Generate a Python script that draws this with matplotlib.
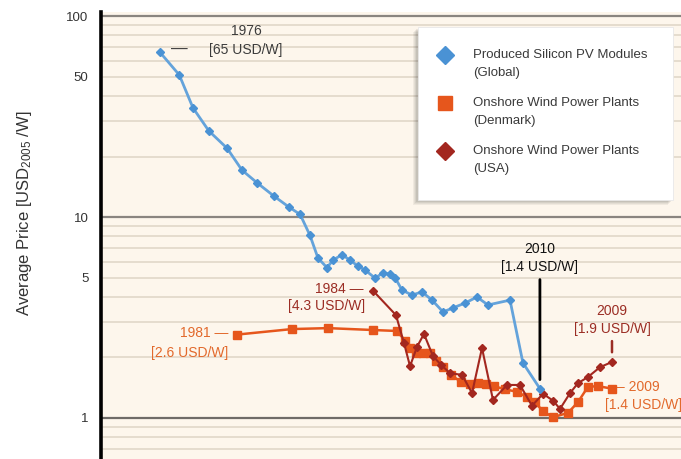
import matplotlib.pyplot as plt
from matplotlib.patches import Rectangle
from matplotlib.lines import Line2D
from matplotlib.ticker import FixedLocator, FixedFormatter, LogLocator, NullLocator

plt.rcParams['font.family'] = ['Liberation Sans', 'DejaVu Sans']
plt.rcParams['mathtext.default'] = 'regular'

# cumulative installed capacity [MW] (x axis is cropped off) and average price [USD2005/W]
pv_mw = [4.2, 6.6, 9.1, 13.2, 20.2, 28.7, 40.8, 60.7, 86.3, 112, 141, 170, 210, 242,
         299, 360, 434, 512, 647, 780, 919, 1033, 1217, 1538, 1945, 2460, 3184, 4018,
         5322, 7047, 9120, 15280, 20700, 30800]
pv_price = [66, 50.9, 34.9, 26.8, 22.0, 17.1, 14.8, 12.7, 11.2, 10.3, 8.1, 6.25, 5.6, 6.1,
            6.5, 6.1, 5.7, 5.45, 4.97, 5.27, 5.2, 5.0, 4.33, 4.09, 4.24, 3.86, 3.37, 3.53,
            3.73, 4.0, 3.65, 3.86, 1.88, 1.4]

dk_mw = [25.5, 92.5, 215, 617, 1084, 1307, 1469, 1690, 1991, 2346, 2700, 3184, 3838, 4852,
         5988, 7225, 8710, 10500, 13580, 17990, 22740, 27400, 33100, 41850, 59430, 75130,
         95000, 120000, 166700]
dk_price = [2.6, 2.77, 2.80, 2.74, 2.71, 2.42, 2.23, 2.10, 2.10, 2.10, 1.92, 1.79, 1.64, 1.51,
            1.48, 1.49, 1.48, 1.44, 1.39, 1.35, 1.27, 1.20, 1.08, 1.01, 1.06, 1.20,
            1.43, 1.44, 1.4]

usa_mw = [617, 1057, 1276, 1469, 1730, 2037, 2518, 3035, 3750, 4966, 6280, 7930, 10260,
          14250, 19320, 25590, 33100, 41850, 49320, 62370, 75130, 95000, 125900, 166700]
usa_price = [4.3, 3.25, 2.36, 1.81, 2.26, 2.62, 2.03, 1.84, 1.67, 1.64, 1.33, 2.23, 1.23,
             1.46, 1.46, 1.15, 1.32, 1.22, 1.11, 1.33, 1.49, 1.60, 1.79, 1.9]

y_ticks = [1, 5, 10, 50, 100]
y_labels = ['1', '5', '10', '50', '100']
major_lines = [1, 10, 100]

legend_labels = ['Produced Silicon PV Modules\n(Global)',
                 'Onshore Wind Power Plants\n(Denmark)',
                 'Onshore Wind Power Plants\n(USA)']

BLUE = '#4a92d4'
BLUE_LINE = '#64a3db'
ORANGE = '#e6561c'
DRED = '#a3271f'

W, H = 681, 459
fig = plt.figure(figsize=(W / 100, H / 100), dpi=100)
ax = fig.add_axes([101 / W, 0, 580 / W, 1 - 12 / H])
ax.set_facecolor('#fdf6ec')
ax.set_xscale('log')
ax.set_yscale('log')
ax.set_xlim(10 ** 0.023, 10 ** 5.924)
ax.set_ylim(10 ** -0.204, 10 ** 2.02)

# grid
ax.yaxis.set_major_locator(FixedLocator(y_ticks))
ax.yaxis.set_major_formatter(FixedFormatter(y_labels))
ax.yaxis.set_minor_locator(LogLocator(base=10, subs=range(2, 10), numticks=30))
ax.yaxis.remove_overlapping_locs = False
ax.grid(True, which='minor', axis='y', color='#e3dacb', lw=1.3)
for v in major_lines:
    ax.axhline(v, color='#8a8580' if v != 1 else '#6f6b67', lw=1.6, zorder=1)
ax.xaxis.set_major_locator(NullLocator())
ax.xaxis.set_minor_locator(NullLocator())
ax.tick_params(which='both', length=0)
ax.tick_params(axis='y', pad=9, labelsize=9.5, labelcolor='#333333')
for s in ['top', 'right', 'bottom']:
    ax.spines[s].set_visible(False)
ax.spines['left'].set_linewidth(2.6)
ax.spines['left'].set_color('black')

# series
ax.plot(dk_mw, dk_price, color=ORANGE, lw=1.8, marker='s', ms=6, zorder=3)
ax.plot(usa_mw, usa_price, color=DRED, lw=1.5, marker='D', ms=4, zorder=4)
ax.plot(pv_mw, pv_price, color=BLUE_LINE, lw=2, marker='D', ms=4.3,
        mfc=BLUE, mec=BLUE, zorder=5)

# annotations
fs = 10
def note(txt, xy, off, color, ha='center', size=fs):
    ax.annotate(txt, xy=xy, xytext=off, textcoords='offset points',
                ha=ha, va='center', color=color, fontsize=size)

grey = '#3c3c3c'
note('—', (pv_mw[0], pv_price[0]), (14, 2), grey, size=12)
note('1976', (pv_mw[0], pv_price[0]), (62, 15), grey)
note('[65 USD/W]', (pv_mw[0], pv_price[0]), (62, 2), grey)

note('1984 —', (usa_mw[0], usa_price[0]), (-7, 1.5), '#9b2d24', ha='right')
note('[4.3 USD/W]', (usa_mw[0], usa_price[0]), (-6, -11), '#9b2d24', ha='right')

note('1981 —', (dk_mw[0], dk_price[0]), (-6.5, 1), '#e2692c', ha='right')
note('[2.6 USD/W]', (dk_mw[0], dk_price[0]), (-6.5, -13), '#e2692c', ha='right')

ax.annotate('2010\n[1.4 USD/W]', xy=(pv_mw[-1], pv_price[-1]), xytext=(0, 94),
            textcoords='offset points', ha='center', va='center', fontsize=fs,
            color='#111111', linespacing=1.35,
            arrowprops=dict(arrowstyle='-', color='black', lw=2, shrinkA=2, shrinkB=6.5))

ax.annotate('2009\n[1.9 USD/W]', xy=(usa_mw[-1], usa_price[-1]), xytext=(0, 30),
            textcoords='offset points', ha='center', va='center', fontsize=fs,
            color='#9b2d24', linespacing=1.35,
            arrowprops=dict(arrowstyle='-', color='#9b2d24', lw=1.8, shrinkA=1.5, shrinkB=7))

note('– 2009', (dk_mw[-1], dk_price[-1]), (3.6, 1.4), '#e2692c', ha='left')
note('[1.4 USD/W]', (dk_mw[-1], dk_price[-1]), (-5, -11.5), '#e2692c', ha='left')

# y label
fig.text(24 / W, 1 - 213 / H, 'Average Price [USD$_{2005}$ /W]', rotation=90,
         ha='center', va='center', fontsize=12, color='#333333')

# legend box drawn by hand (marker next to first line of each label)
def fp(x, y):
    return (x / W, 1 - y / H)

bx0, by0, bx1, by1 = 418, 27, 673, 200
for i, a in enumerate([0.05, 0.05, 0.06, 0.07]):
    d = 5 - i
    fig.add_artist(Rectangle(fp(bx0 - d, by1 + d), (bx1 - bx0) / W, (by1 - by0) / H,
                             transform=fig.transFigure, facecolor='black', alpha=a,
                             edgecolor='none', zorder=8))
fig.add_artist(Rectangle(fp(bx0, by1), (bx1 - bx0) / W, (by1 - by0) / H,
                         transform=fig.transFigure, facecolor='white',
                         edgecolor='#e8e8e8', lw=0.6, zorder=9))

handles = [dict(marker='D', ms=9, c=BLUE), dict(marker='s', ms=10.5, c=ORANGE),
           dict(marker='D', ms=9, c=DRED)]
rows = [55, 103, 151]
for lab, h, ry in zip(legend_labels, handles, rows):
    fig.add_artist(Line2D([445 / W], [1 - ry / H], transform=fig.transFigure,
                          marker=h['marker'], ms=h['ms'], color=h['c'], ls='none', zorder=10))
    first, second = lab.split('\n')
    fig.text(473 / W, 1 - ry / H, first, ha='left', va='center', fontsize=9.5,
             color='#3a3a3a', zorder=10)
    fig.text(473 / W, 1 - (ry + 18) / H, second, ha='left', va='center', fontsize=9.5,
             color='#3a3a3a', zorder=10)

fig.savefig('out.png', dpi=100)
